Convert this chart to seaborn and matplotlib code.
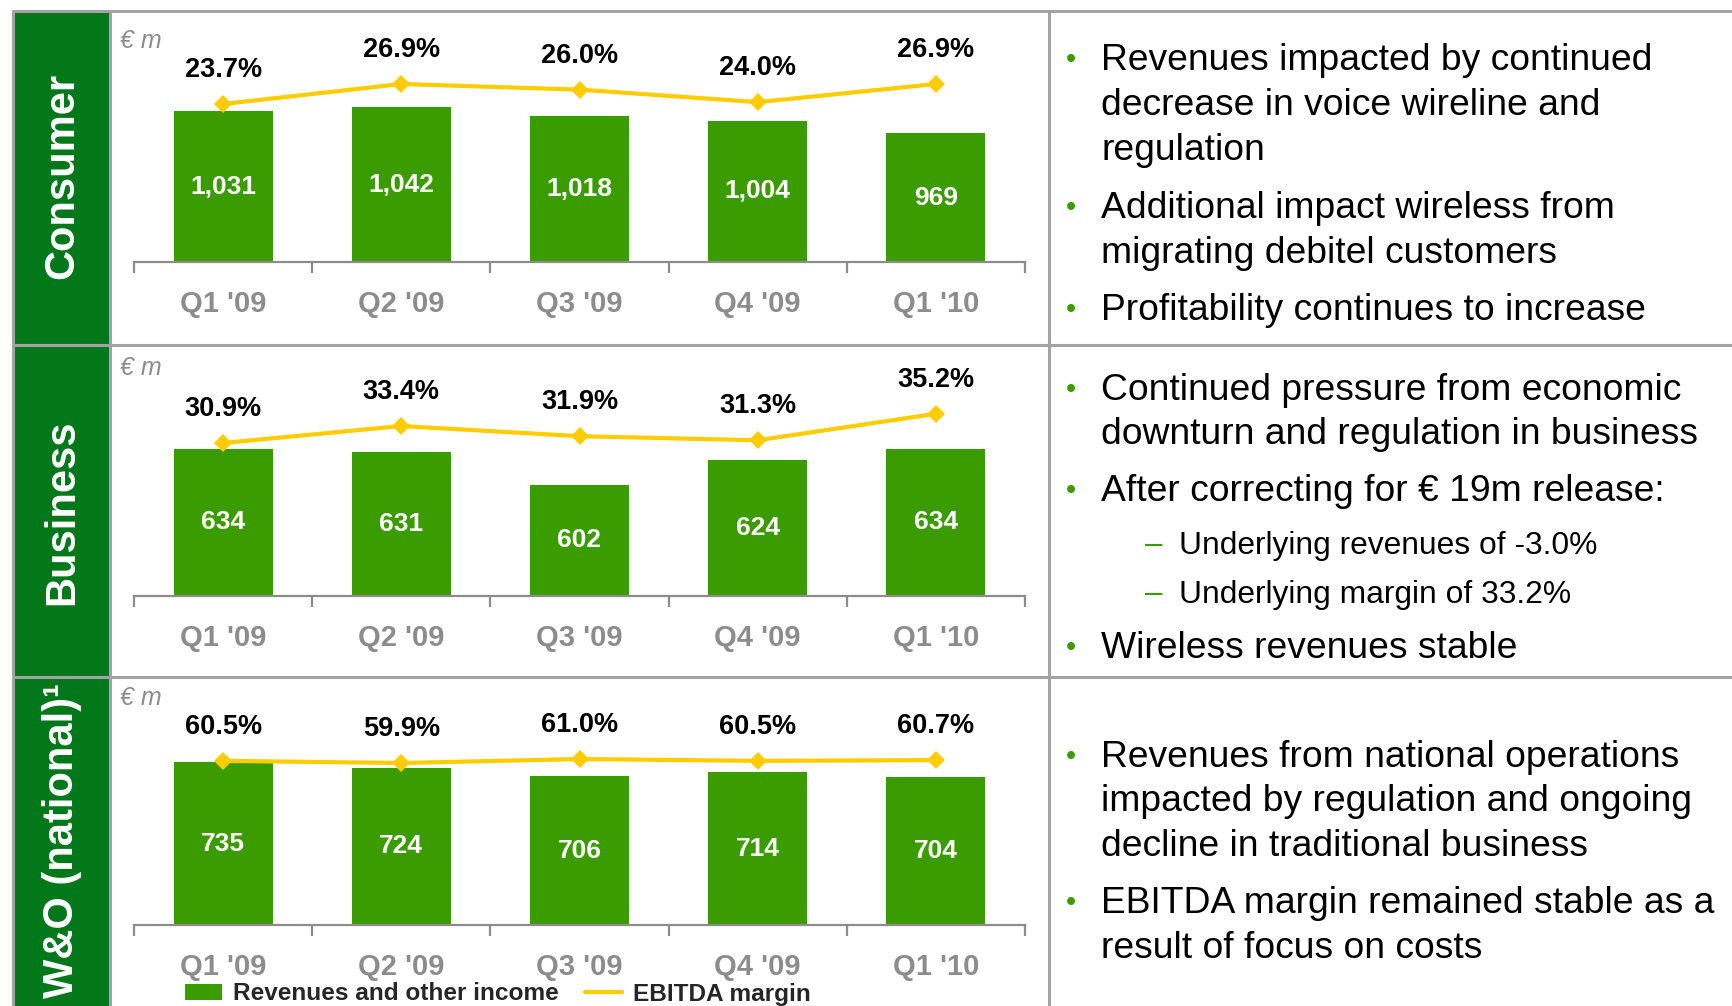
import numpy as np
import pandas as pd
import matplotlib
matplotlib.use("Agg")
import matplotlib.pyplot as plt
import seaborn as sns
from matplotlib.patches import Rectangle, Patch
from matplotlib.lines import Line2D

# ---------------- data ----------------
quarters = ["Q1 '09", "Q2 '09", "Q3 '09", "Q4 '09", "Q1 '10"]
segments = ["Consumer", "Business", "W&O (national)¹"]
consumer_revenue = [1031, 1042, 1018, 1004, 969]
consumer_margin = [23.7, 26.9, 26.0, 24.0, 26.9]
business_revenue = [634, 631, 602, 624, 634]
business_margin = [30.9, 33.4, 31.9, 31.3, 35.2]
wo_revenue = [735, 724, 706, 714, 704]
wo_margin = [60.5, 59.9, 61.0, 60.5, 60.7]
legend_labels = ["Revenues and other income", "EBITDA margin"]
unit_label = "€ m"

consumer_notes = [
    (0, ["Revenues impacted by continued", "decrease in voice wireline and", "regulation"]),
    (0, ["Additional impact wireless from", "migrating debitel customers"]),
    (0, ["Profitability continues to increase"]),
]
business_notes = [
    (0, ["Continued pressure from economic", "downturn and regulation in business"]),
    (0, ["After correcting for € 19m release:"]),
    (1, ["Underlying revenues of -3.0%"]),
    (1, ["Underlying margin of 33.2%"]),
    (0, ["Wireless revenues stable"]),
]
wo_notes = [
    (0, ["Revenues from national operations", "impacted by regulation and ongoing",
         "decline in traditional business"]),
    (0, ["EBITDA margin remained stable as a", "result of focus on costs"]),
]

# ---------------- style ----------------
BAR_GREEN = "#3A9C00"
LABEL_GREEN = "#03781B"
GOLD = "#FFCC00"
GRID_GRAY = "#A3A3A3"
TEXT_GRAY = "#8C8C8C"

sns.set_style("white")
plt.rcParams["font.family"] = ["Liberation Sans", "DejaVu Sans"]

W, H = 1732, 1006
fig = plt.figure(figsize=(W / 100, H / 100), dpi=100)
fig.patch.set_facecolor("white")

bg = fig.add_axes([0, 0, 1, 1], zorder=0)
bg.set_xlim(0, W)
bg.set_ylim(H, 0)
bg.axis("off")

# layout of panels (pixel positions)
panels = [
    dict(name=segments[0], rev=consumer_revenue, mar=consumer_margin, notes=consumer_notes,
         top=11, bottom=345, baseline=262, bar_floor=607, bar_ppu=0.356,
         m_floor=-1.58, m_ppu=6.25, unit_y=41, label_y=176, label_va="center",
         note_baselines=[70, 115, 160, 218, 263, 320]),
    dict(name=segments[1], rev=business_revenue, mar=business_margin, notes=business_notes,
         top=345, bottom=677, baseline=596, bar_floor=503, bar_ppu=1.125,
         m_floor=8.4, m_ppu=6.8, unit_y=368, label_y=512, label_va="center",
         note_baselines=[400, 444, 501, 554, 603, 658]),
    dict(name=segments[2], rev=wo_revenue, mar=wo_margin, notes=wo_notes,
         top=677, bottom=1012, baseline=925, bar_floor=398, bar_ppu=0.483,
         m_floor=14.9, m_ppu=3.6, unit_y=698, label_y=683, label_va="top",
         note_baselines=[767, 811, 856, 913, 958]),
]

AX_LEFT, AX_RIGHT = 134, 1025
COL_L, COL_R, DIV_X = 13, 110, 1049

for p in panels:
    # green label cell
    bg.add_patch(Rectangle((COL_L, p["top"]), COL_R - COL_L, p["bottom"] - p["top"],
                           facecolor=LABEL_GREEN, edgecolor="none", zorder=1))
    bg.text(62, p["label_y"], p["name"], rotation=90, ha="center", va=p["label_va"],
            color="white", fontsize=30, fontweight="bold", zorder=3)
    # unit label
    bg.text(120, p["unit_y"], unit_label, ha="left", va="center", color=TEXT_GRAY,
            fontsize=18, style="italic", zorder=3)

    # chart axes
    ax_top = p["top"] + 4
    h_px = p["baseline"] - ax_top
    ax = fig.add_axes([AX_LEFT / W, 1 - p["baseline"] / H, (AX_RIGHT - AX_LEFT) / W, h_px / H],
                      zorder=2)
    ax.set_facecolor("none")
    df = pd.DataFrame({"quarter": quarters, "revenue": p["rev"], "margin": p["mar"]})
    sns.barplot(data=df, x="quarter", y="revenue", color=BAR_GREEN, saturation=1,
                width=0.556, linewidth=0, ax=ax)
    ax.set_xlim(-0.5, len(quarters) - 0.5)
    ylo = p["bar_floor"]
    ax.set_ylim(ylo, ylo + h_px / p["bar_ppu"])
    for i, v in enumerate(p["rev"]):
        ax.text(i, (ylo + v) / 2, f"{v:,}", ha="center", va="center", color="white",
                fontsize=19, fontweight="bold")
    for s in ["top", "left", "right"]:
        ax.spines[s].set_visible(False)
    ax.spines["bottom"].set_color(TEXT_GRAY)
    ax.spines["bottom"].set_linewidth(1.6)
    ax.set_yticks([])
    ax.set_xlabel("")
    ax.set_ylabel("")
    ax.set_xticks(range(len(quarters)))
    ax.set_xticklabels(quarters)
    ax.set_xticks(np.arange(-0.5, len(quarters), 1), minor=True)
    ax.tick_params(axis="x", which="major", bottom=False, length=0, pad=20, labelsize=21,
                   labelcolor=TEXT_GRAY)
    ax.tick_params(axis="x", which="minor", bottom=True, length=8, width=1.6,
                   color=TEXT_GRAY, direction="out")
    for lab in ax.get_xticklabels():
        lab.set_fontweight("bold")

    # margin line
    ax2 = ax.twinx()
    ax2.set_facecolor("none")
    sns.lineplot(x=np.arange(len(quarters)), y=p["mar"], ax=ax2, color=GOLD, linewidth=3,
                 marker="D", markersize=9, markeredgewidth=0, markeredgecolor=GOLD)
    ax2.set_xlim(-0.5, len(quarters) - 0.5)
    ax2.set_ylim(p["m_floor"], p["m_floor"] + h_px / p["m_ppu"])
    ax2.axis("off")
    for i, m in enumerate(p["mar"]):
        ax2.annotate(f"{m:.1f}%", xy=(i, m), xytext=(0, 24.5), textcoords="offset points",
                     ha="center", va="center", fontsize=19.5, fontweight="bold", color="black")

    # notes
    k = 0
    for level, lines in p["notes"]:
        for j, line in enumerate(lines):
            y = p["note_baselines"][k]
            if level == 0:
                if j == 0:
                    bg.text(1071, y - 2, "•", ha="center", va="baseline", color=BAR_GREEN,
                            fontsize=21, zorder=3)
                bg.text(1101, y, line, ha="left", va="baseline", color="black",
                        fontsize=26.8, zorder=3)
            else:
                bg.text(1145, y - 1, "–", ha="left", va="baseline", color=BAR_GREEN,
                        fontsize=22.5, zorder=3)
                bg.text(1179, y, line, ha="left", va="baseline", color="black",
                        fontsize=22.9, zorder=3)
            k += 1

# grid lines
for y in [11, 345, 677]:
    bg.add_line(Line2D([COL_L, W], [y, y], color=GRID_GRAY, linewidth=2.2, zorder=4))
for x in [COL_L, COL_R, DIV_X]:
    bg.add_line(Line2D([x, x], [11, H], color=GRID_GRAY, linewidth=2.2, zorder=4))

# legend
handles = [Patch(facecolor=BAR_GREEN, edgecolor="none"),
           Line2D([], [], color=GOLD, linewidth=3)]
fig.legend(handles, legend_labels, ncol=2, loc="center left",
           bbox_to_anchor=(185 / W, 1 - 994 / H), frameon=False,
           prop={"weight": "bold", "size": 17.6}, handlelength=1.5, handleheight=0.66,
           handletextpad=0.45, columnspacing=1.1, borderpad=0, borderaxespad=0)

fig.savefig("out.png", dpi=100)
